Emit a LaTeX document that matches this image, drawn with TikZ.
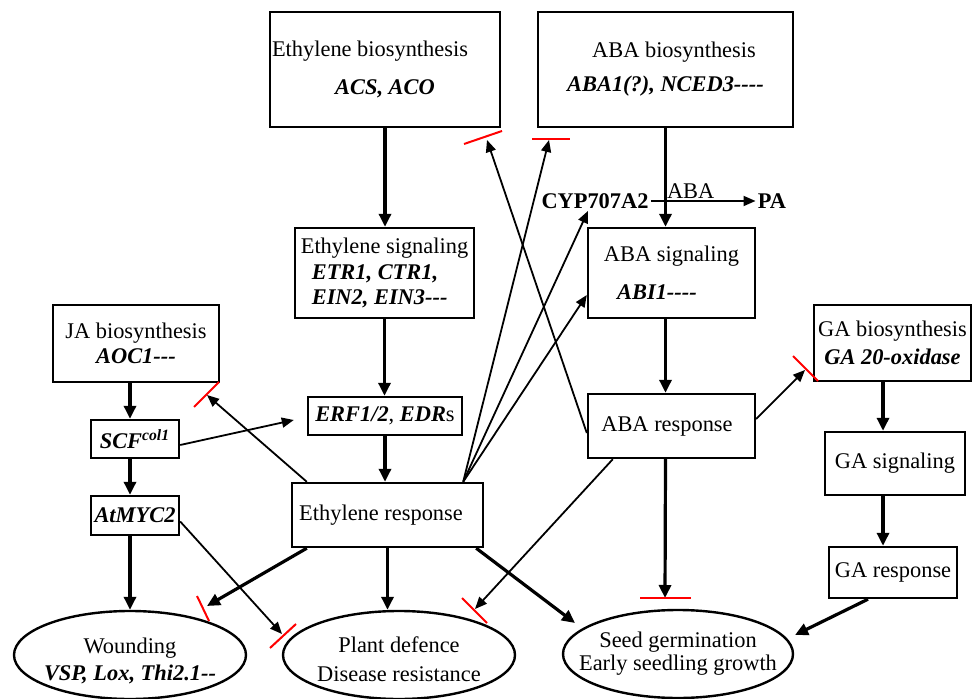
\documentclass[tikz,border=0pt]{standalone}
\usepackage{fontspec}
\setmainfont{Liberation Serif}
\usetikzlibrary{arrows.meta,shapes.geometric}

\newcommand{\gn}[1]{\textbf{\textit{#1}}}
\newcommand{\ellbox}[2][0pt]{\makebox[0pt]{\raisebox{#1}[\height][\depth]{\begin{tabular}{@{}c@{}}#2\end{tabular}}}}

\begin{document}
\begin{tikzpicture}[x=0.5pt,y=-0.5pt,
	every node/.style={font=\fontsize{11.2}{12.75}\selectfont},
	box/.style={draw,line width=1.2pt,rectangle,inner sep=0pt,align=center},
	oval/.style={draw,line width=1.2pt,ellipse,inner sep=0pt,minimum width=116pt,minimum height=44pt},
	thickarr/.style={line width=1.6pt,-{Triangle[length=6.5pt,width=6pt]}},
	thinarr/.style={line width=0.9pt,-{Triangle[length=6pt,width=5pt]}},
	inhbar/.style={draw=red,line width=1pt}]

	\useasboundingbox (0,0) rectangle (973,699);

	%Ethylene
	\node[box,minimum width=115pt,minimum height=57.5pt] (ethbio) at (385,69.5) {Ethylene biosynthesis\hspace*{15pt}\\[6.25pt]\gn{ACS, ACO}};
	\node[box,align=left,minimum width=89.5pt,minimum height=45pt] (ethsig) at (384.5,273) {Ethylene signaling\\\hspace*{5.5pt}\gn{ETR1, CTR1,}\\\hspace*{5.5pt}\gn{EIN2, EIN3-{}-{}-}};
	\node[box,minimum width=77pt,minimum height=19pt] (erf) at (385,416) {\gn{ERF1/2}, \gn{EDR}s};
	\node[box,minimum width=95.5pt,minimum height=32pt] (ethresp) at (387.5,515) {Ethylene response\hspace*{6.5pt}};

	%ABA
	\node[box,minimum width=127.5pt,minimum height=57.5pt] (ababio) at (665.5,69.5) {\hspace*{8.5pt}ABA biosynthesis\\[4.25pt]\gn{ABA1(?), NCED3-{}-{}-{}-}};
	\node[box,minimum width=83.5pt,minimum height=45pt] (abasig) at (671.5,273) {ABA signaling\\[6.25pt]\gn{ABI1-{}-{}-{}-}\hspace*{14.5pt}};
	\node[box,minimum width=83.5pt,minimum height=32pt] (abaresp) at (671.5,426) {ABA response\hspace*{4.5pt}};
	\node[inner sep=1pt] (cyp) at (595,201) {\textbf{CYP707A2}};
	\node[inner sep=1pt] (pa) at (772,201) {\textbf{PA}};

	%JA
	\node[box,minimum width=83pt,minimum height=38.5pt] (jabio) at (136,343.5) {JA biosynthesis\\\gn{AOC1-{}-{}-}};
	\node[box,minimum width=44pt,minimum height=19pt] (scf) at (135,439) {\gn{SCF\textsuperscript{col1}}};
	\node[box,minimum width=44pt,minimum height=19.5pt] (atmyc) at (135,515.5) {\gn{AtMYC2}};

	%GA
	\node[box,minimum width=78.5pt,minimum height=38pt] (gabio) at (892.5,343) {GA biosynthesis\\[1.25pt]\gn{GA 20-oxidase}};
	\node[box,minimum width=70pt,minimum height=31.5pt] (gasig) at (895,463.5) {GA signaling};
	\node[box,minimum width=64pt,minimum height=25.5pt] (garesp) at (893,572.5) {GA response};

	%Outcomes
	\node[oval] (wound) at (130,655) {\ellbox[-3.5pt]{Wounding\\[1pt]\gn{VSP, Lox, Thi2.1-{}-}}};
	\node[oval] (defence) at (399,655) {\ellbox[-3.5pt]{Plant defence\\[1.5pt]Disease resistance}};
	\node[oval,minimum width=115pt] (seed) at (678,654) {\ellbox{Seed germination\\[-1pt]Early seedling growth}};

	%Free ends
	\coordinate (tipJA) at (207,395);
	\coordinate (tipEthBio) at (487,140);
	\coordinate (tipAbaBio) at (549,140);
	\coordinate (tipGA) at (805,370);
	\coordinate (tipWound) at (207,606);
	\coordinate (tipDefM) at (282,634);
	\coordinate (tipDefA) at (475,609);
	\coordinate (tipGerm) at (665,598);
	\coordinate (tipSeedE) at (575,623);
	\coordinate (tipSeedG) at (795,635);
	\coordinate (galine) at ([xshift=-4.75pt]gabio.south);

	%Main chains
	\draw[thickarr] (ethbio.south) -- (ethbio.south |- ethsig.north);
	\draw[thickarr] (ethsig.south) -- (ethsig.south |- erf.north);
	\draw[thickarr] (erf.south) -- (erf.south |- ethresp.north);
	\draw[thickarr] (ababio.south) -- (ababio.south |- abasig.north);
	\draw[thickarr] (ababio.south |- abasig.south) -- (ababio.south |- abaresp.north);
	\draw[thickarr] (jabio.south -| wound.north) -- (scf.north -| wound.north);
	\draw[thickarr] (scf.south -| wound.north) -- (atmyc.north -| wound.north);
	\draw[thickarr] (atmyc.south -| wound.north) -- (wound.north);
	\draw[thickarr] (galine) -- (galine |- gasig.north);
	\draw[thickarr] (galine |- gasig.south) -- (galine |- garesp.north);

	%To outcomes
	\draw[thickarr] (ethresp.south) -- (ethresp.south |- defence.north);
	\draw[thickarr] ([xshift=8pt]ethresp.south west) -- (tipWound);
	\draw[thickarr] ([xshift=-4pt]ethresp.south east) -- (tipSeedE);
	\draw[thickarr] ([xshift=-12.5pt]garesp.south) -- (tipSeedG);
	\draw[thickarr] (ababio.south |- abaresp.south) -- (tipGerm);
	\draw[thinarr] ([yshift=-3pt]atmyc.east) -- (tipDefM);
	\draw[thinarr] ([xshift=13pt]abaresp.south west) -- (tipDefA);

	%Cross talk
	\draw[thinarr] ([yshift=-3pt]scf.east) -- ([xshift=-6.5pt,yshift=-2pt]erf.west);
	\draw[thinarr] ([xshift=8pt]ethresp.north west) -- (tipJA);
	\draw[thinarr] ([xshift=-10.5pt]ethresp.north east) -- (tipAbaBio);
	\draw[thinarr] ([xshift=-10.5pt]ethresp.north east) -- ([xshift=-3.5pt]cyp.south);
	\draw[thinarr] ([xshift=-10.5pt]ethresp.north east) -- ([yshift=-11pt]abasig.west);
	\draw[thinarr] ([yshift=-3.5pt]abaresp.west) -- (tipEthBio);
	\draw[thinarr] ([yshift=3.5pt]abaresp.east) -- (tipGA);
	\draw[thinarr] (cyp.east) -- node[above,pos=0.38,inner sep=1pt] (abalbl) {ABA} (pa.west);

	%Inhibition bars
	\draw[inhbar] (194,407) -- (219,382);
	\draw[inhbar] (464,144) -- (502,131);
	\draw[inhbar] (532,139) -- (570,139);
	\draw[inhbar] (793,356) -- (818,381);
	\draw[inhbar] (197,596) -- (209,621);
	\draw[inhbar] (270,648) -- (296,624);
	\draw[inhbar] (462,598) -- (487,623);
	\draw[inhbar] (640,598) -- (691,598);

\end{tikzpicture}
\end{document}
